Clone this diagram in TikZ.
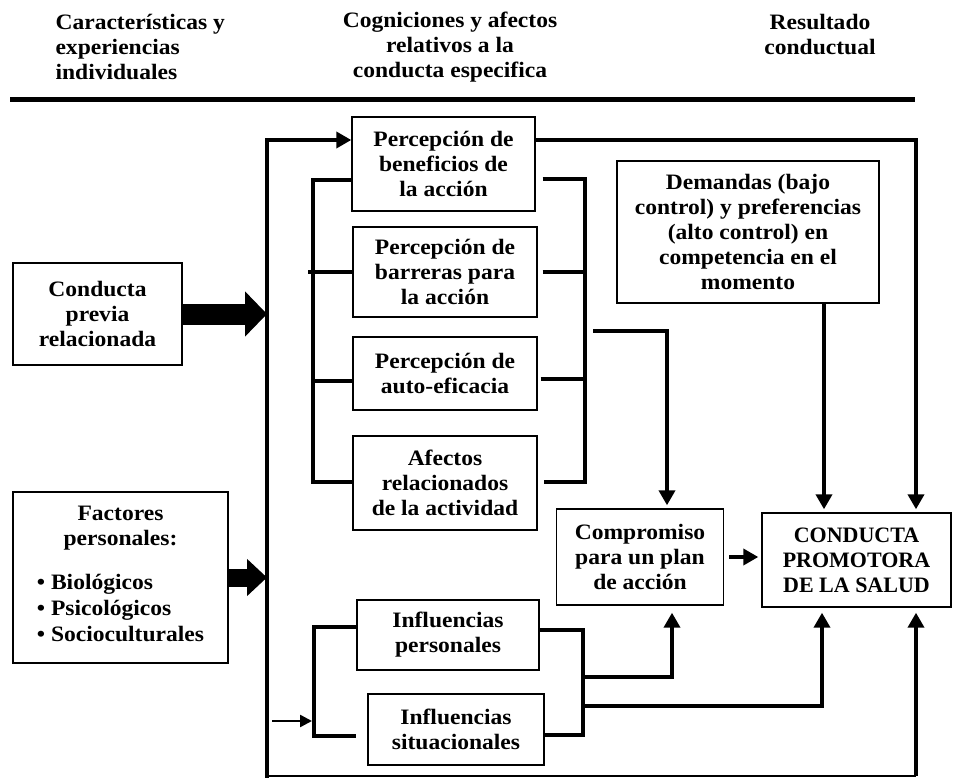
\documentclass[tikz,border=0pt]{standalone}
\usepackage{fontspec}
\setmainfont{Liberation Serif}
\newfontfamily\boxfont[FakeStretch=1.07]{Liberation Serif}
\usetikzlibrary{arrows.meta}

\begin{document}
\begin{tikzpicture}[
        x=1pt, y=-1pt,
        box/.style={draw, line width=1.4pt, align=center, inner sep=0pt,
            font=\boxfont\bfseries\fontsize{22}{25}\selectfont},
        head/.style={align=center, font=\boxfont\bfseries\fontsize{22}{25}\selectfont},
        wire/.style={line width=4.5pt},
        arr/.style={wire, -{Triangle[length=15pt,width=16pt]}},
        thinarr/.style={line width=2.5pt, -{Triangle[length=12pt,width=12pt]}},
        ]
    \useasboundingbox (0,0) rectangle (953,778);

    % encabezados
    \node (h1) [head, align=left, anchor=west] at (52,47) {Características y\\experiencias\\individuales};
    \node (h2) [head] at (450,47) {Cogniciones y afectos\\relativos a la\\conducta especifica};
    \node (h3) [head] at (820,35) {Resultado\\conductual};
    \coordinate (rl) at (10,100);
    \coordinate (rr) at (915,100);
    \draw [line width=5pt] (rl) -- (rr);

    % cajas
    \node (prev) [box, minimum width=169pt, minimum height=102pt] at (97.5,314) {Conducta\\previa\\relacionada};
    \node (fact) [box, minimum width=215pt, minimum height=171pt] at (120.5,577.5)
        {Factores\\personales:\\[19pt]\renewcommand{\arraystretch}{1.05}%
         \begin{tabular}[t]{@{}l@{}}• Biológicos\\• Psicológicos\\• Socioculturales\end{tabular}};
    \node (bene) [box, minimum width=183pt, minimum height=94pt] at (443.5,164) {Percepción de\\beneficios de\\la acción};
    \node (barr) [box, minimum width=184pt, minimum height=90pt] at (445,272) {Percepción de\\barreras para\\la acción};
    \node (auto) [box, minimum width=184pt, minimum height=73pt] at (445,373.5) {Percepción de\\auto-eficacia};
    \node (afec) [box, minimum width=184pt, minimum height=94pt] at (445,483) {Afectos\\relacionados\\de la actividad};
    \node (dem) [box, minimum width=262pt, minimum height=142pt] at (748,232)
        {Demandas (bajo\\control) y preferencias\\(alto control) en\\competencia en el\\momento};
    \node (comp) [box, minimum width=167pt, minimum height=96pt] at (640,557) {Compromiso\\para un plan\\de acción};
    \node (salud) [box, minimum width=189pt, minimum height=94pt, font=\bfseries\fontsize{22}{25}\selectfont]
        at (856.5,560) {CONDUCTA\\PROMOTORA\\DE LA SALUD};
    \node (pers) [box, minimum width=182pt, minimum height=70pt] at (448,635) {Influencias\\personales};
    \node (sit) [box, minimum width=176pt, minimum height=71pt] at (456,729.5) {Influencias\\situacionales};

    % tronco principal
    \coordinate (ttop) at (267,140);
    \coordinate (tbot) at (267,778);
    \coordinate (rtop) at (916,140);
    \coordinate (rbot) at (916,776);
    \draw [arr] (tbot) -- (ttop) -- (ttop -| bene.west);
    \draw [arr] (ttop -| bene.east) -- (rtop) -- ([yshift=3pt]rtop |- salud.north);
    \draw [line width=2pt] (tbot |- rbot) -- (rbot);
    \draw [arr] (rbot) -- ([yshift=-5pt]rbot |- salud.south);

    % flechas gruesas
    \draw [line width=21pt, -{Triangle[length=22pt,width=44pt]}] (prev.east) -- (prev.east -| ttop);
    \draw [line width=18pt, -{Triangle[length=20pt,width=36pt]}] (fact.east) -- (fact.east -| ttop);

    % corchete izquierdo
    \coordinate (lb1) at (313,180);
    \coordinate (lb2) at (313,482);
    \coordinate (lb3) at (313,381);
    \draw [wire] (lb1 -| bene.west) -- (lb1) -- (lb2) -- (lb2 -| afec.west);
    \draw [wire] ([xshift=-5pt]lb1 |- barr.west) -- (barr.west);
    \draw [wire] (lb3) -- (lb3 -| auto.west);

    % corchete derecho
    \coordinate (rb1) at (585,179);
    \coordinate (rb2) at (585,482);
    \coordinate (rb3) at (585,379);
    \coordinate (rout) at (585,331);
    \coordinate (cin) at (667,331);
    \draw [wire] ([xshift=7pt]bene.east |- rb1) -- (rb1) -- (rb2) -- ([xshift=6pt]afec.east |- rb2);
    \draw [wire] ([xshift=5pt]barr.east) -- (barr.east -| rb1);
    \draw [wire] ([xshift=3pt]rb3 -| auto.east) -- (rb3);
    \draw [arr] ([xshift=8pt]rout) -- (cin) -- ([yshift=3pt]cin |- comp.north);

    \draw [arr] ([xshift=76pt]dem.south) -- ([xshift=76pt,yshift=3pt]dem.south |- salud.north);
    \draw [arr] ([xshift=5pt]comp.east) -- ([xshift=-3pt]salud.west |- comp.east);

    % influencias
    \coordinate (il1) at (314,627);
    \coordinate (il2) at (314,736);
    \coordinate (iin) at (312,721);
    \coordinate (ir1) at (583,630);
    \coordinate (ir2) at (583,735);
    \draw [wire] (il1 -| pers.west) -- (il1) -- (il2) -- (il2 -| pers.west);
    \draw [wire] (ir1 -| pers.east) -- (ir1) -- (ir2) -- (ir2 -| sit.east);
    \draw [thinarr] ([xshift=-40pt]iin) -- (iin);

    \coordinate (u1) at (583,677);
    \coordinate (u1e) at (672,677);
    \coordinate (u2) at (583,706);
    \coordinate (u2e) at (822,706);
    \draw [arr] (u1) -- (u1e) -- ([yshift=-7pt]u1e |- comp.south);
    \draw [arr] (u2) -- (u2e) -- ([yshift=-5pt]u2e |- salud.south);
\end{tikzpicture}
\end{document}
